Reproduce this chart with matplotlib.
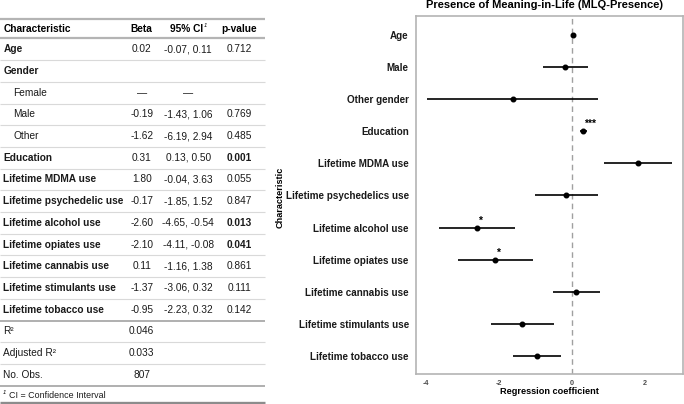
import matplotlib
matplotlib.use("Agg")
import matplotlib.pyplot as plt

plt.rcParams['font.family'] = ['Liberation Sans', 'DejaVu Sans']

# ---- table data ----
row_labels = ["Age", "Gender", "Female", "Male", "Other", "Education",
              "Lifetime MDMA use", "Lifetime psychedelic use", "Lifetime alcohol use",
              "Lifetime opiates use", "Lifetime cannabis use", "Lifetime stimulants use",
              "Lifetime tobacco use", "R\u00b2", "Adjusted R\u00b2", "No. Obs."]
row_beta = ["0.02", "", "\u2014", "-0.19", "-1.62", "0.31", "1.80", "-0.17", "-2.60",
            "-2.10", "0.11", "-1.37", "-0.95", "0.046", "0.033", "807"]
row_ci = ["-0.07, 0.11", "", "\u2014", "-1.43, 1.06", "-6.19, 2.94", "0.13, 0.50",
          "-0.04, 3.63", "-1.85, 1.52", "-4.65, -0.54", "-4.11, -0.08", "-1.16, 1.38",
          "-3.06, 0.32", "-2.23, 0.32", "", "", ""]
row_p = ["0.712", "", "", "0.769", "0.485", "0.001", "0.055", "0.847", "0.013",
         "0.041", "0.861", "0.111", "0.142", "", "", ""]
row_bold = [True, True, False, False, False, True, True, True, True, True, True,
            True, True, False, False, False]
row_indent = [False, False, True, True, True] + [False] * 11
p_bold = ["0.001", "0.013", "0.041"]

# ---- forest plot data ----
terms = ["Age", "Male", "Other gender", "Education", "Lifetime MDMA use",
         "Lifetime psychedelics use", "Lifetime alcohol use", "Lifetime opiates use",
         "Lifetime cannabis use", "Lifetime stimulants use", "Lifetime tobacco use"]
coef = [0.02, -0.19, -1.62, 0.31, 1.80, -0.17, -2.60, -2.10, 0.11, -1.37, -0.95]
lo = [0.00, -0.80, -3.95, 0.22, 0.87, -1.02, -3.63, -3.11, -0.52, -2.22, -1.60]
hi = [0.04, 0.45, 0.71, 0.41, 2.74, 0.71, -1.55, -1.07, 0.76, -0.50, -0.30]
stars = ["", "", "", "***", "", "", "*", "*", "", "", ""]

W, H = 684, 404
fig = plt.figure(figsize=(W / 100, H / 100), dpi=100)

# ---- table (pixel coordinate axes) ----
tax = fig.add_axes([0, 0, 270 / W, 1])
tax.set_xlim(0, 270)
tax.set_ylim(H, 0)
tax.axis('off')

fs = 7.3
x_lab, x_ind, x_beta, x_ci, x_p = 3.3, 13.3, 141.7, 188.3, 239.5
y_head, y0, dy = 28.7, 49.3, 21.7

tax.text(x_lab, y_head, "Characteristic", fontsize=fs, fontweight='bold', va='center')
tax.text(x_beta, y_head, "Beta", fontsize=fs, fontweight='bold', va='center', ha='center')
tax.text(x_ci - 2, y_head, "95% CI", fontsize=fs, fontweight='bold', va='center', ha='center')
tax.text(x_ci + 17, y_head - 3, "1", fontsize=4.2, style='italic', va='center', ha='center')
tax.text(x_p, y_head, "p-value", fontsize=fs, fontweight='bold', va='center', ha='center')

for i, lab in enumerate(row_labels):
    y = y0 + i * dy
    tax.text(x_ind if row_indent[i] else x_lab, y, lab, fontsize=fs,
             fontweight='bold' if row_bold[i] else 'normal', va='center', color='#1a1a1a')
    tax.text(x_beta, y, row_beta[i], fontsize=fs, va='center', ha='center', color='#1a1a1a')
    tax.text(x_ci, y, row_ci[i], fontsize=fs, va='center', ha='center', color='#1a1a1a')
    tax.text(x_p, y, row_p[i], fontsize=fs, va='center', ha='center', color='#1a1a1a',
             fontweight='bold' if row_p[i] in p_bold else 'normal')
    if i < len(row_labels) - 1:
        yl = y + dy / 2
        if i == 12:
            tax.plot([0, 265], [yl, yl], color='#a9a9a9', lw=1.3, solid_capstyle='butt')
        else:
            tax.plot([0, 265], [yl, yl], color='#d9d9d9', lw=0.8, solid_capstyle='butt')

tax.plot([0, 265], [18.5, 18.5], color='#b4b4b4', lw=1.6, solid_capstyle='butt')
tax.plot([0, 265], [37.8, 37.8], color='#b4b4b4', lw=1.6, solid_capstyle='butt')
y_foot_line = y0 + 15 * dy + dy / 2
tax.plot([0, 265], [y_foot_line, y_foot_line], color='#a9a9a9', lw=1.3, solid_capstyle='butt')
tax.plot([0, 265], [402.5, 402.5], color='#8c8c8c', lw=2.4, solid_capstyle='butt')
tax.text(4.2, 393, "1", fontsize=4.2, style='italic', va='center', ha='center')
tax.text(9.3, 396, "CI = Confidence Interval", fontsize=6.4, va='center', color='#1a1a1a')

# ---- forest plot ----
ax = fig.add_axes([415.7 / W, 1 - 374.3 / H, 267.6 / W, (374.3 - 16) / H])
ypos = list(range(len(terms)))
ax.axvline(0, color='#a0a0a0', lw=1.0, ls=(0, (4, 3)), zorder=1)
ax.hlines(ypos, lo, hi, color='black', lw=1.2, zorder=2)
ax.plot(coef, ypos, 'o', color='black', ms=3.3, zorder=3)
for y, c, s in zip(ypos, coef, stars):
    if s:
        ax.text(c + 0.03, y - 0.22, s, fontsize=7.5, fontweight='bold', ha='left', va='center')

ax.set_xlim(-4.27, 3.05)
ax.set_ylim(10.57, -0.59)
ax.set_yticks(ypos)
ax.set_yticklabels(terms, fontsize=7.1, fontweight='bold', color='#1a1a1a')
ax.set_xticks([-4, -2, 0, 2])
ax.set_xticklabels(['-4', '-2', '0', '2'], fontsize=5.2, fontweight='bold', color='#4d4d4d')
ax.tick_params(axis='y', length=0, pad=5)
ax.tick_params(axis='x', length=0, pad=4)
for sp in ax.spines.values():
    sp.set_color('#b4b4b4')
    sp.set_linewidth(1.2)

fig.text(549.5 / W, 1 - 392 / H, "Regression coefficient", fontsize=6.6,
         fontweight='bold', ha='center', va='center')
fig.text(280 / W, 1 - 197 / H, "Characteristic", fontsize=6.6, fontweight='bold',
         rotation=90, ha='center', va='center')
fig.text(544 / W, 1 - 5.5 / H, "Presence of Meaning-in-Life (MLQ-Presence)", fontsize=8.0,
         fontweight='bold', ha='center', va='center')

fig.savefig("out.png", dpi=100)
